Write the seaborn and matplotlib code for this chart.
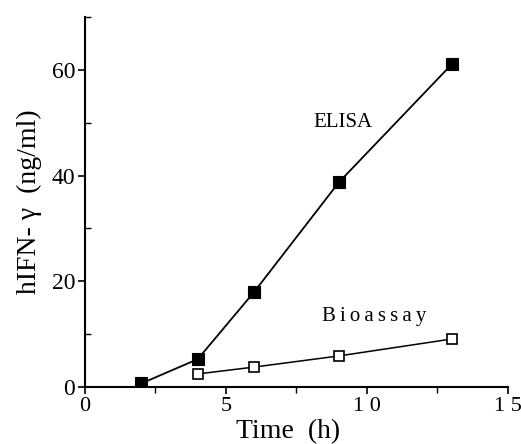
import matplotlib
matplotlib.use("Agg")
import matplotlib.pyplot as plt
import seaborn as sns
import pandas as pd
from matplotlib.ticker import MultipleLocator

sns.set_style("ticks", {"text.color": "black", "axes.labelcolor": "black",
                        "xtick.color": "black", "ytick.color": "black",
                        "axes.edgecolor": "black"})
plt.rcParams['font.family'] = ['Liberation Serif', 'DejaVu Serif']

elisa_time = [2, 4, 6, 9, 13]
elisa_vals = [0.7, 5.3, 18.0, 38.7, 61.0]
bio_time = [4, 6, 9, 13]
bio_vals = [2.5, 3.8, 5.9, 9.1]
x_ticks = [0, 5, 10, 15]
x_tick_labels = ["0", "5", "1 0", "1 5"]
y_ticks = [0, 20, 40, 60]
y_tick_labels = ["0", "20", "40", "60"]

df_e = pd.DataFrame({"t": elisa_time, "v": elisa_vals})
df_b = pd.DataFrame({"t": bio_time, "v": bio_vals})

fig = plt.figure(figsize=(5.21, 4.44), dpi=100)
ax = fig.add_axes([0.163, 0.128, 0.812, 0.834])

sns.lineplot(data=df_e, x="t", y="v", ax=ax, color="black", lw=1.3,
             marker="s", markersize=8.5, markerfacecolor="black",
             markeredgecolor="black", markeredgewidth=0.8)
sns.lineplot(data=df_b, x="t", y="v", ax=ax, color="black", lw=1.1,
             marker="s", markersize=7.5, markerfacecolor="white",
             markeredgecolor="black", markeredgewidth=1.2)

ax.set_xlim(0, 15)
ax.set_ylim(0, 70)
ax.set_xticks(x_ticks)
ax.set_xticklabels(x_tick_labels, fontsize=16, color="black")
ax.set_yticks(y_ticks)
ax.set_yticklabels(y_tick_labels, fontsize=17, color="black")
ax.xaxis.set_minor_locator(MultipleLocator(2.5))
ax.yaxis.set_minor_locator(MultipleLocator(10))
ax.tick_params(axis="both", which="major", direction="out", length=5, width=1.2, pad=2,
               color="black")
ax.tick_params(axis="x", which="minor", direction="out", length=4, width=1, color="black")
ax.tick_params(axis="y", which="minor", direction="in", length=4, width=1, color="black")

for s in ["top", "right"]:
    ax.spines[s].set_visible(False)
for s in ["left", "bottom"]:
    ax.spines[s].set_linewidth(1.5)
    ax.spines[s].set_color("black")

ax.set_xlabel("Time  (h)", fontsize=20, color="black")
ax.xaxis.set_label_coords(0.48, -0.085)
ax.xaxis.label.set_va("top")
ax.set_ylabel("hIFN- γ  (ng/ml)", fontsize=20, labelpad=7, color="black")

ax.text(9.15, 50, "ELISA", fontsize=15, ha="center", va="center", color="black")
ax.text(10.25, 13.3, "B\u2009i\u2009o\u2009a\u2009s\u2009s\u2009a\u2009y", fontsize=15,
        ha="center", va="center", color="black")

fig.savefig("out.png", dpi=100)
